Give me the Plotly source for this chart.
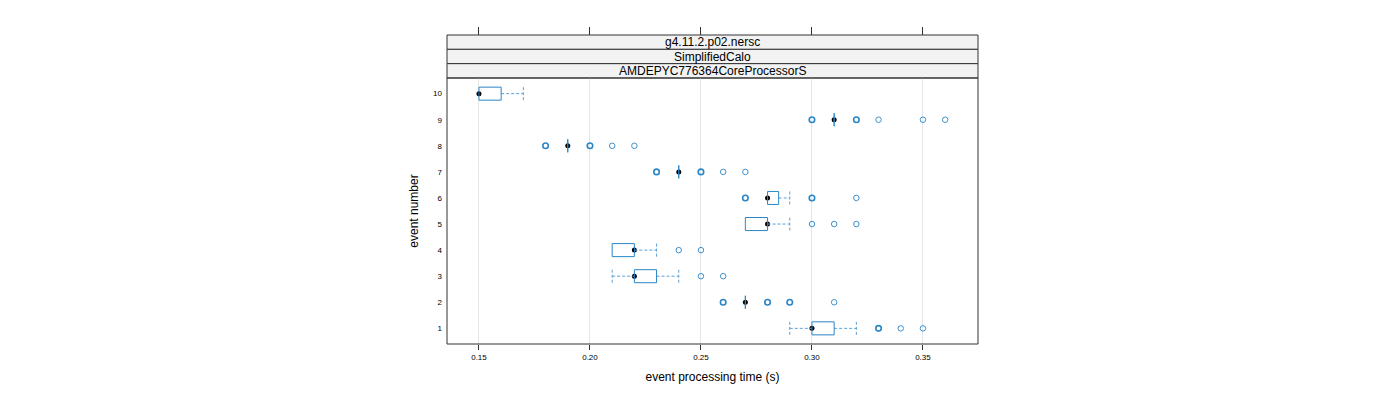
import plotly.graph_objects as go
from collections import Counter

# ---------------- data ----------------
events = [1, 2, 3, 4, 5, 6, 7, 8, 9, 10]
lower_whisker = [0.29, 0.27, 0.21, 0.21, 0.27, 0.28, 0.24, 0.19, 0.31, 0.15]
q1 =            [0.30, 0.27, 0.22, 0.21, 0.27, 0.28, 0.24, 0.19, 0.31, 0.15]
median =        [0.30, 0.27, 0.22, 0.22, 0.28, 0.28, 0.24, 0.19, 0.31, 0.15]
q3 =            [0.31, 0.27, 0.23, 0.22, 0.28, 0.285, 0.24, 0.19, 0.31, 0.16]
upper_whisker = [0.32, 0.27, 0.24, 0.23, 0.29, 0.29, 0.24, 0.19, 0.31, 0.17]
outliers = [
    [0.33, 0.33, 0.33, 0.34, 0.35],
    [0.26, 0.26, 0.26, 0.28, 0.28, 0.29, 0.29, 0.31],
    [0.25, 0.26],
    [0.24, 0.25],
    [0.30, 0.31, 0.32],
    [0.27, 0.27, 0.30, 0.30, 0.32],
    [0.23, 0.23, 0.25, 0.25, 0.26, 0.27],
    [0.18, 0.18, 0.20, 0.20, 0.21, 0.22],
    [0.30, 0.30, 0.32, 0.32, 0.33, 0.35, 0.36],
    [],
]
x_ticks = [0.15, 0.20, 0.25, 0.30, 0.35]
x_ticklabels = ["0.15", "0.20", "0.25", "0.30", "0.35"]
strip_labels = ["g4.11.2.p02.nersc", "SimplifiedCalo", "AMDEPYC776364CoreProcessorS"]
x_title = "event processing time (s)"
y_title = "event number"

# ---------------- style ----------------
BLUE = "#2a86c6"
WHISK = "#5aa0d6"
FONT = "Liberation Sans, Arial, sans-serif"
X_RANGE = [0.1356, 0.3748]
Y_RANGE = [0.4, 10.6]
HALF = 0.25
PANEL_FRAC = 266 / 309
DASH = "3px,2px"

fig = go.Figure()
shapes = []

for i, ev in enumerate(events):
    if lower_whisker[i] < q1[i]:
        shapes.append(dict(type="line", xref="x", yref="y", x0=lower_whisker[i], x1=q1[i], y0=ev, y1=ev,
                           line=dict(color=WHISK, width=1, dash=DASH)))
        shapes.append(dict(type="line", xref="x", yref="y", x0=lower_whisker[i], x1=lower_whisker[i],
                           y0=ev - HALF, y1=ev + HALF, line=dict(color=WHISK, width=1, dash=DASH)))
    if upper_whisker[i] > q3[i]:
        shapes.append(dict(type="line", xref="x", yref="y", x0=q3[i], x1=upper_whisker[i], y0=ev, y1=ev,
                           line=dict(color=WHISK, width=1, dash=DASH)))
        shapes.append(dict(type="line", xref="x", yref="y", x0=upper_whisker[i], x1=upper_whisker[i],
                           y0=ev - HALF, y1=ev + HALF, line=dict(color=WHISK, width=1, dash=DASH)))
    shapes.append(dict(type="rect", xref="x", yref="y", x0=q1[i], x1=q3[i], y0=ev - HALF, y1=ev + HALF,
                       line=dict(color=BLUE, width=1), fillcolor="rgba(0,0,0,0)"))

for i, ev in enumerate(events):
    c = Counter(outliers[i])
    xs = list(c.keys())
    if not xs:
        continue
    widths = [1.6 if c[v] > 1 else 0.9 for v in xs]
    fig.add_trace(go.Scatter(
        x=xs, y=[ev] * len(xs), mode="markers", showlegend=False, hoverinfo="x",
        marker=dict(symbol="circle-open", size=5.5, color=BLUE, line=dict(color=BLUE, width=widths)),
    ))

fig.add_trace(go.Scatter(
    x=median, y=events, mode="markers", showlegend=False,
    marker=dict(symbol="circle", size=5, color="black"),
))

fig.add_trace(go.Scatter(x=[x_ticks[0]], y=[1], xaxis="x2", mode="markers",
                         marker=dict(opacity=0), showlegend=False, hoverinfo="skip"))

shapes.append(dict(type="rect", xref="paper", yref="paper", x0=0, x1=1, y0=0, y1=PANEL_FRAC,
                   line=dict(color="#333333", width=1), fillcolor="rgba(0,0,0,0)", layer="above"))
n = len(strip_labels)
sh = (1 - PANEL_FRAC) / n
annotations = []
for k, lab in enumerate(strip_labels):
    y0 = 1 - (k + 1) * sh
    y1 = 1 - k * sh
    shapes.append(dict(type="rect", xref="paper", yref="paper", x0=0, x1=1, y0=y0, y1=y1,
                       line=dict(color="#333333", width=1), fillcolor="#f2f2f2", layer="below"))
    annotations.append(dict(text=lab, xref="paper", yref="paper", x=0.5, y=(y0 + y1) / 2,
                            showarrow=False, font=dict(family=FONT, size=12, color="black"),
                            xanchor="center", yanchor="middle"))

# page body has an 8px default margin, so offset the plot margins by 8px
fig.update_layout(
    width=1400, height=400,
    margin=dict(l=439, r=430, t=27, b=64, autoexpand=False),
    plot_bgcolor="white", paper_bgcolor="white",
    shapes=shapes, annotations=annotations,
    xaxis=dict(range=X_RANGE, tickvals=x_ticks, ticktext=x_ticklabels, ticks="outside", ticklen=5,
               tickcolor="#333333", showgrid=True, gridcolor="#e6e6e6", gridwidth=1, zeroline=False,
               showline=False, tickfont=dict(family=FONT, size=8, color="black"), automargin=False,
               title=dict(text=x_title, font=dict(family=FONT, size=12, color="black"), standoff=12),
               anchor="y"),
    xaxis2=dict(range=X_RANGE, tickvals=x_ticks, overlaying="x", side="top", anchor="free", position=1,
                ticks="outside", ticklen=8, tickcolor="#333333", showticklabels=False, showgrid=False,
                zeroline=False, showline=False, automargin=False),
    yaxis=dict(range=Y_RANGE, domain=[0, PANEL_FRAC], tickvals=events, ticktext=[str(e) for e in events],
               ticks="", showgrid=False, zeroline=False, showline=False, automargin=False,
               tickfont=dict(family=FONT, size=8, color="black"), ticklabelstandoff=4,
               title=dict(text=y_title, font=dict(family=FONT, size=12, color="black"), standoff=11)),
)

fig.write_html("out.html")
